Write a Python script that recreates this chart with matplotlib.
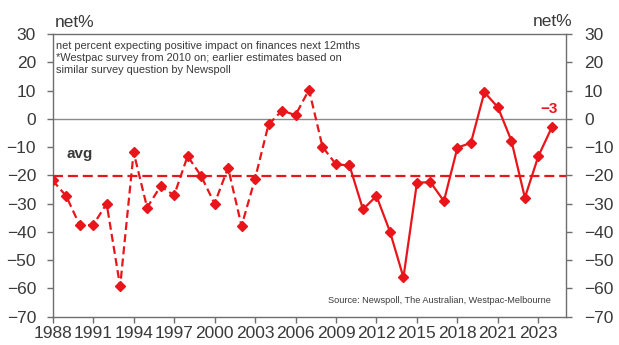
import numpy as np
import matplotlib
matplotlib.use("Agg")
import matplotlib.pyplot as plt

plt.rcParams['font.family'] = ['Liberation Sans', 'DejaVu Sans']

# Net percent expecting a positive impact on family finances, next 12 months
values = [-21.8, -27.3, -37.6, -37.6, -30.0, -59.3, -11.8, -31.4, -23.8, -27.1,
          -13.2, -20.2, -30.0, -17.3, -37.9, -21.2, -2.0, 2.9, 1.3, 10.3,
          -9.9, -16.1, -16.5, -32.0, -27.3, -39.9, -56.1, -22.6, -22.4, -29.1,
          -10.2, -8.5, 9.4, 4.1, -7.7, -27.9, -13.2, -3.0]
tick_labels = ['1988', '1991', '1994', '1997', '2000', '2003', '2006', '2009',
               '2012', '2015', '2018', '2021', '2023']
westpac_start = 22  # first Westpac survey observation (2010)

RED = '#E8161B'
TXT = '#3a3a3a'
AX = '#6e6e6e'
FS = 12.5

x = np.arange(len(values))
vals = np.array(values)
avg = vals.mean()

fig = plt.figure(figsize=(6.19, 3.45), dpi=100)
ax = fig.add_axes([0.0851, 0.082, 0.8293, 0.8194])

ax.set_xlim(0, 38.05)
ax.set_ylim(-70, 30)

# zero line and average
ax.axhline(0, color='#8a8a8a', lw=1.0, zorder=1)
ax.axhline(avg, color=RED, lw=1.6, dashes=(4.5, 2.2), zorder=2)

# Newspoll-based estimates (dashed) and Westpac survey (solid)
ax.plot(x[:westpac_start + 1], vals[:westpac_start + 1], color=RED, lw=1.6,
        dashes=(3.6, 1.9), marker='D', ms=5.5, mec=RED, mfc=RED, zorder=3)
ax.plot(x[westpac_start:], vals[westpac_start:], color=RED, lw=1.6,
        marker='D', ms=5.5, mec=RED, mfc=RED, zorder=3)

# axes styling
for s in ax.spines.values():
    s.set_color(AX)
    s.set_linewidth(1.0)
ax.set_xticks(np.arange(0, len(values), 3))
ax.set_xticklabels(tick_labels)
ax.set_yticks(np.arange(-70, 31, 10))
ax.tick_params(axis='x', direction='out', length=4, width=1, color=AX,
               labelsize=FS, labelcolor=TXT, pad=3)
ax.tick_params(axis='y', direction='out', length=4, width=1, color=AX,
               labelsize=FS, labelcolor=TXT, pad=8)

ax2 = ax.twinx()
ax2.set_ylim(ax.get_ylim())
ax2.set_yticks(np.arange(-70, 31, 10))
ax2.tick_params(axis='y', direction='out', length=4, width=1, color=AX,
                labelsize=FS, labelcolor=TXT, pad=9)
for s in ax2.spines.values():
    s.set_visible(False)

# texts
fig.text(0.088, 0.935, 'net%', fontsize=FS, color=TXT, ha='left', va='center')
fig.text(0.924, 0.938, 'net%', fontsize=FS, color=TXT, ha='right', va='center')

ax.text(0.006, 0.975,
        'net percent expecting positive impact on finances next 12mths\n'
        '*Westpac survey from 2010 on; earlier estimates based on\n'
        'similar survey question by Newspoll',
        transform=ax.transAxes, fontsize=7.9, color=TXT, ha='left', va='top',
        linespacing=1.25)
ax.text(0.97, 0.04, 'Source: Newspoll, The Australian, Westpac-Melbourne',
        transform=ax.transAxes, fontsize=6.6, color=TXT, ha='right', va='bottom')

ax.text(1.0, -12.5, 'avg', fontsize=11, fontweight='bold', color=TXT,
        ha='left', va='center')
ax.annotate(f'\u2212{abs(values[-1]):.0f}', xy=(x[-1], values[-1]),
            xytext=(x[-1] - 0.2, 3.6), textcoords='data', fontsize=11,
            fontweight='bold', color=RED, ha='center', va='center')

fig.savefig('out.png', dpi=100)
